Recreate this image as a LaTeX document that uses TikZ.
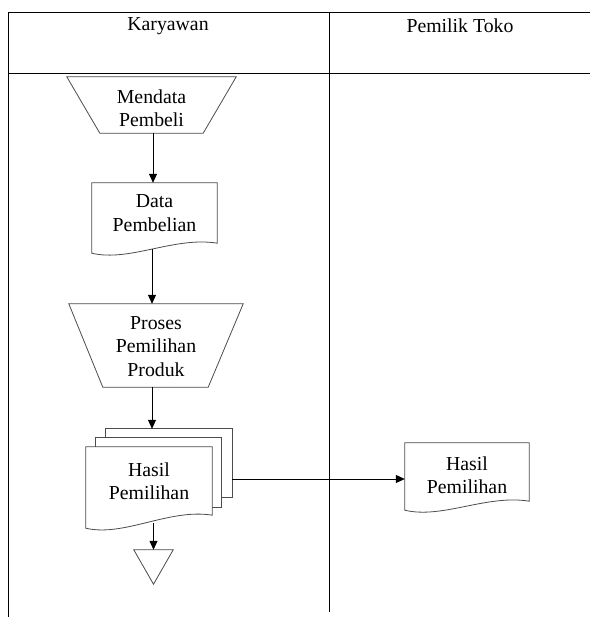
\documentclass[tikz,border=0pt]{standalone}
\usepackage{fontspec}
\setmainfont{Liberation Serif}
\usetikzlibrary{arrows.meta,calc}
\tikzset{
  shp/.style={draw=black!70, line width=0.8pt, fill=white},
  frame/.style={draw=black, line width=0.8pt},
  box/.style={draw=none, inner sep=0pt, align=center, font=\fontsize{19.8}{23.5}\selectfont},
  arr/.style={draw=black, line width=0.8pt, -{Triangle[length=9pt,width=8pt]}},
  hdr/.style={inner sep=0pt, font=\fontsize{19.8}{23.5}\selectfont},
}
\newcommand{\docshape}[2]{%
  \draw[shp] (#1.north west) -- (#1.north east) -- (#1.south east)
    .. controls ($(#1.south east)!0.34!(#1.south west)+(0,-7)$) and ($(#1.south east)!0.7!(#1.south west)+(0,#2+9)$)
    .. ([yshift=-#2pt]#1.south west) -- cycle;}
\begin{document}
\begin{tikzpicture}[x=1pt,y=-1pt]
\useasboundingbox (0,0) rectangle (590,617);
% frame
\coordinate (tl) at (8,12);
\coordinate (tr) at (590,12);
\coordinate (hl) at (8,73);
\coordinate (hr) at (590,73);
\coordinate (bl) at (8,617);
\coordinate (mt) at (329,12);
\coordinate (mb) at (329,612);
\draw[frame] (tr) -- (tl) -- (bl);
\draw[frame] (hl) -- (hr);
\draw[frame] (mt) -- (mb);
\node[hdr] (h1) at (168,26) {Karyawan};
\node[hdr] (h2) at (460,26) {Pemilik Toko};

% Mendata Pembeli (manual operation)
\node[box, minimum width=169pt, minimum height=56pt] (m1) at (151.5,105) {};
\draw[shp] (m1.north west) -- (m1.north east) -- ([xshift=-33pt]m1.south east) -- ([xshift=33pt]m1.south west) -- cycle;
\node[box] at ([yshift=-3pt]m1.center) {Mendata\\Pembeli};

% Data Pembelian (document)
\node[box, minimum width=125pt, minimum height=60pt] (d1) at (154.5,213) {};
\docshape{d1}{10}
\node[box] at (d1.center) {Data\\Pembelian};

% Proses Pemilihan Produk
\node[box, minimum width=174pt, minimum height=83pt] (p1) at (156,345.5) {};
\draw[shp] (p1.north west) -- (p1.north east) -- ([xshift=-35pt]p1.south east) -- ([xshift=34pt]p1.south west) -- cycle;
\node[box] at ([yshift=-1pt]p1.center) {Proses\\Pemilihan\\Produk};

% Multi-document Hasil Pemilihan
\node[box, minimum width=126pt, minimum height=68pt] (hb) at (169,463) {};
\draw[shp] (hb.north west) rectangle (hb.south east);
\node[box, minimum width=125pt, minimum height=69pt] (hm) at (158.5,472.5) {};
\draw[shp] (hm.north west) rectangle (hm.south east);
\node[box, minimum width=126pt, minimum height=68pt] (hf) at (149,481) {};
\docshape{hf}{13}
\node[box] at (hf.center) {Hasil\\Pemilihan};

% triangle (storage)
\node[box, minimum width=39pt, minimum height=34pt] (t1) at (153.5,567) {};
\draw[shp] (t1.north west) -- (t1.north east) -- (t1.south) -- cycle;

% right document
\node[box, minimum width=124pt, minimum height=58pt] (r1) at (467,472) {};
\docshape{r1}{9}
\node[box] at ([yshift=-3pt]r1.center) {Hasil\\Pemilihan};

% connectors
\draw[arr] (m1.south -| 153,0) -- (d1.north -| 153,0);
\draw[arr] ([yshift=-6pt]d1.south -| 152,0) -- (p1.north -| 152,0);
\draw[arr] (p1.south -| 152,0) -- (hb.north -| 152,0);
\draw[arr] ([yshift=-8pt]hf.south -| t1.north) -- (t1.north);
\draw[arr] ([yshift=-16pt]hb.east) -- ([yshift=-16pt]hb.east -| r1.west);
\end{tikzpicture}
\end{document}
